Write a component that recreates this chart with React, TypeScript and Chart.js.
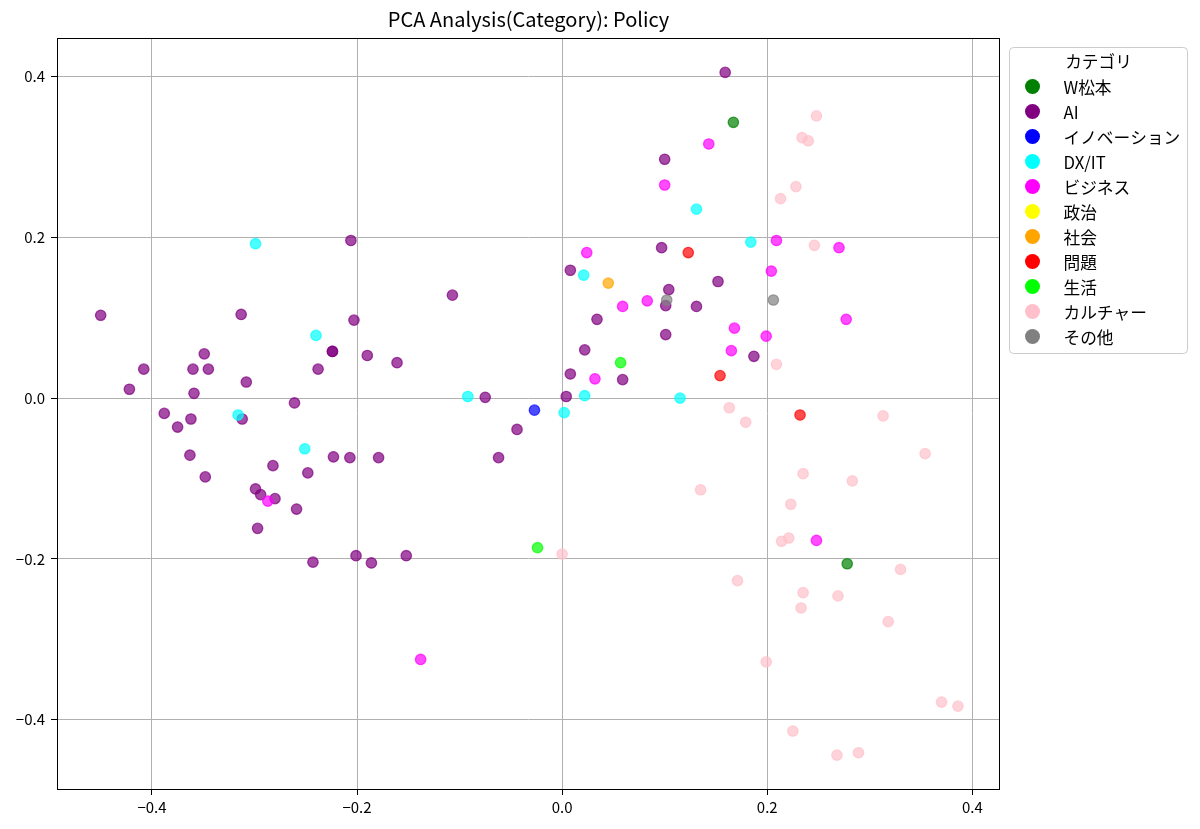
import { useEffect, useRef } from "react";
import { Chart, ScatterController, PointElement, LinearScale } from "chart.js";

Chart.register(ScatterController, PointElement, LinearScale);

const FONT = "'Noto Sans CJK JP', 'Noto Sans', sans-serif";

// カテゴリと色（凡例の並び順）
const categories = [
  "W松本",
  "AI",
  "イノベーション",
  "DX/IT",
  "ビジネス",
  "政治",
  "社会",
  "問題",
  "生活",
  "カルチャー",
  "その他",
];
const categoryColors = [
  "0,128,0",
  "128,0,128",
  "0,0,255",
  "0,255,255",
  "255,0,255",
  "255,255,0",
  "255,165,0",
  "255,0,0",
  "0,255,0",
  "255,192,203",
  "128,128,128",
];

// PCA 座標 [PC1, PC2]
const matsumotoPoints: [number, number][] = [
  [0.167, 0.343],
  [0.278, -0.206],
];
const aiPoints: [number, number][] = [
  [-0.206, 0.196], [-0.45, 0.103], [-0.313, 0.104], [-0.203, 0.097],
  [-0.224, 0.058], [-0.224, 0.058], [-0.349, 0.055], [-0.408, 0.036],
  [-0.36, 0.036], [-0.345, 0.036], [-0.238, 0.036], [-0.308, 0.02],
  [-0.422, 0.011], [-0.359, 0.006], [-0.261, -0.006], [-0.388, -0.019],
  [-0.362, -0.026], [-0.312, -0.026], [-0.375, -0.036], [-0.363, -0.071],
  [-0.223, -0.073], [-0.207, -0.074], [-0.179, -0.074], [-0.282, -0.084],
  [-0.248, -0.093], [-0.348, -0.098], [-0.299, -0.113], [-0.294, -0.12],
  [-0.28, -0.125], [-0.259, -0.138], [-0.297, -0.162], [-0.243, -0.204],
  [-0.201, -0.196], [-0.186, -0.205], [-0.152, -0.196], [-0.107, 0.128],
  [-0.19, 0.053], [-0.161, 0.044], [-0.075, 0.001], [-0.062, -0.074],
  [-0.044, -0.039], [0.159, 0.405], [0.1, 0.297], [0.097, 0.187],
  [0.008, 0.159], [0.152, 0.145], [0.104, 0.135], [0.101, 0.115],
  [0.131, 0.114], [0.034, 0.098], [0.101, 0.079], [0.187, 0.052],
  [0.022, 0.06], [0.008, 0.03], [0.059, 0.023], [0.004, 0.002],
];
const innovationPoints: [number, number][] = [[-0.027, -0.015]];
const dxitPoints: [number, number][] = [
  [-0.299, 0.192], [-0.24, 0.078], [-0.316, -0.021], [-0.251, -0.063],
  [-0.092, 0.002], [0.131, 0.235], [0.184, 0.194], [0.021, 0.153],
  [0.022, 0.003], [0.115, 0.0], [0.002, -0.018],
];
const businessPoints: [number, number][] = [
  [0.143, 0.316], [0.1, 0.265], [0.209, 0.196], [0.27, 0.187],
  [0.024, 0.181], [0.204, 0.158], [0.083, 0.121], [0.059, 0.114],
  [0.277, 0.098], [0.168, 0.087], [0.199, 0.077], [0.165, 0.059],
  [0.032, 0.024], [-0.287, -0.128], [0.248, -0.177], [-0.138, -0.325],
];
const politicsPoints: [number, number][] = [];
const societyPoints: [number, number][] = [[0.045, 0.143]];
const problemPoints: [number, number][] = [
  [0.123, 0.181], [0.154, 0.028], [0.232, -0.021],
];
const lifePoints: [number, number][] = [
  [0.057, 0.044], [-0.024, -0.186],
];
const culturePoints: [number, number][] = [
  [0.248, 0.351], [0.234, 0.324], [0.24, 0.32], [0.228, 0.263],
  [0.213, 0.248], [0.246, 0.19], [0.209, 0.042], [0.163, -0.012],
  [0.179, -0.03], [0.313, -0.022], [0.354, -0.069], [0.235, -0.094],
  [0.283, -0.103], [0.135, -0.114], [0.223, -0.132], [0.214, -0.178],
  [0.221, -0.174], [0.33, -0.213], [0.171, -0.227], [0.235, -0.242],
  [0.269, -0.246], [0.233, -0.261], [0.318, -0.278], [0.199, -0.328],
  [0.37, -0.378], [0.386, -0.383], [0.225, -0.414], [0.268, -0.444],
  [0.289, -0.441], [0.0, -0.194],
];
const otherPoints: [number, number][] = [
  [0.102, 0.122], [0.206, 0.122],
];

const seriesPoints = [
  matsumotoPoints,
  aiPoints,
  innovationPoints,
  dxitPoints,
  businessPoints,
  politicsPoints,
  societyPoints,
  problemPoints,
  lifePoints,
  culturePoints,
  otherPoints,
];

const tickValues = [-0.4, -0.2, 0, 0.2, 0.4];
const xRange = [-0.4926, 0.427];
const yRange = [-0.4861, 0.4478];
const title = "PCA Analysis(Category): Policy";
const legendTitle = "カテゴリ";

const fmt = (v: number) => {
  const s = Math.abs(v).toFixed(1);
  return v < -1e-9 ? "\u2212" + s : s;
};

// タイトル・枠・凡例を描くプラグイン
const decorPlugin = {
  id: "decor",
  afterDraw(chart: Chart) {
    const { ctx, chartArea } = chart;
    const { left, right, top, bottom } = chartArea;
    ctx.save();
    // frame
    ctx.strokeStyle = "#000";
    ctx.lineWidth = 1;
    ctx.strokeRect(left + 0.5, top + 0.5, right - left - 1, bottom - top);

    // title
    ctx.fillStyle = "#000";
    ctx.font = `20px ${FONT}`;
    ctx.textAlign = "center";
    ctx.textBaseline = "middle";
    ctx.fillText(title, (left + right) / 2, 19);

    // legend
    const bx = right + 9.5;
    const by = top + 9.5;
    const bw = 178;
    const bh = 306;
    ctx.beginPath();
    ctx.roundRect(bx, by, bw, bh, 4);
    ctx.fillStyle = "rgba(255,255,255,0.8)";
    ctx.fill();
    ctx.strokeStyle = "#cccccc";
    ctx.stroke();

    ctx.font = `16.7px ${FONT}`;
    ctx.fillStyle = "#000";
    ctx.textAlign = "center";
    ctx.fillText(legendTitle, bx + bw / 2, by + 14);
    ctx.textAlign = "left";
    chart.data.datasets.forEach((ds: any, i: number) => {
      const cy = by + 39 + i * 25;
      ctx.beginPath();
      ctx.arc(bx + 23, cy, 7.5, 0, Math.PI * 2);
      ctx.fillStyle = `rgb(${categoryColors[i]})`;
      ctx.fill();
      ctx.fillStyle = "#000";
      ctx.fillText(ds.label, bx + 54, cy + 1);
    });
    ctx.restore();
  },
};

export default function App() {
  const canvasRef = useRef<HTMLCanvasElement | null>(null);

  useEffect(() => {
    document.body.style.margin = "0";
    document.body.style.background = "#fff";
    const el = canvasRef.current;
    if (!el) return;

    const datasets = categories.map((label, i) => ({
      label,
      data: seriesPoints[i].map(([x, y]) => ({ x, y })),
      backgroundColor: `rgba(${categoryColors[i]},0.7)`,
      borderColor: `rgba(${categoryColors[i]},0.7)`,
      borderWidth: 1.3,
      pointRadius: 5.2,
      pointHoverRadius: 5.2,
      order: categories.length - i,
    }));

    const tickFont = { family: FONT, size: 15 };

    const axisCommon = (min: number, max: number) => ({
      type: "linear" as const,
      min,
      max,
      afterBuildTicks: (scale: any) => {
        scale.ticks = tickValues.map((value) => ({ value }));
      },
      grid: {
        color: "#b0b0b0",
        lineWidth: 1,
        tickColor: "#000",
        tickLength: 6,
        tickWidth: 1,
      },
      border: { display: false },
    });

    const chart = new Chart(el, {
      type: "scatter",
      data: { datasets },
      options: {
        animation: false,
        responsive: true,
        maintainAspectRatio: false,
        events: [],
        layout: { padding: { top: 38, right: 200, left: 0, bottom: 0 } },
        plugins: {
          legend: { display: false },
          tooltip: { enabled: false },
        },
        scales: {
          x: {
            ...axisCommon(xRange[0], xRange[1]),
            position: "bottom",
            ticks: {
              color: "#000",
              font: tickFont,
              padding: 3,
              maxRotation: 0,
              callback: (v: any) => fmt(Number(v)),
            },
            afterFit: (scale: any) => {
              scale.height = 40;
            },
          },
          y: {
            ...axisCommon(yRange[0], yRange[1]),
            position: "left",
            ticks: {
              color: "#000",
              font: tickFont,
              padding: 6,
              callback: (v: any) => fmt(Number(v)),
            },
            afterFit: (scale: any) => {
              scale.width = 57;
            },
          },
        },
      },
      plugins: [decorPlugin],
    });

    return () => {
      chart.destroy();
    };
  }, []);

  return (
    <div style={{ width: 1200, height: 829, position: "relative" }}>
      <canvas ref={canvasRef} />
    </div>
  );
}
